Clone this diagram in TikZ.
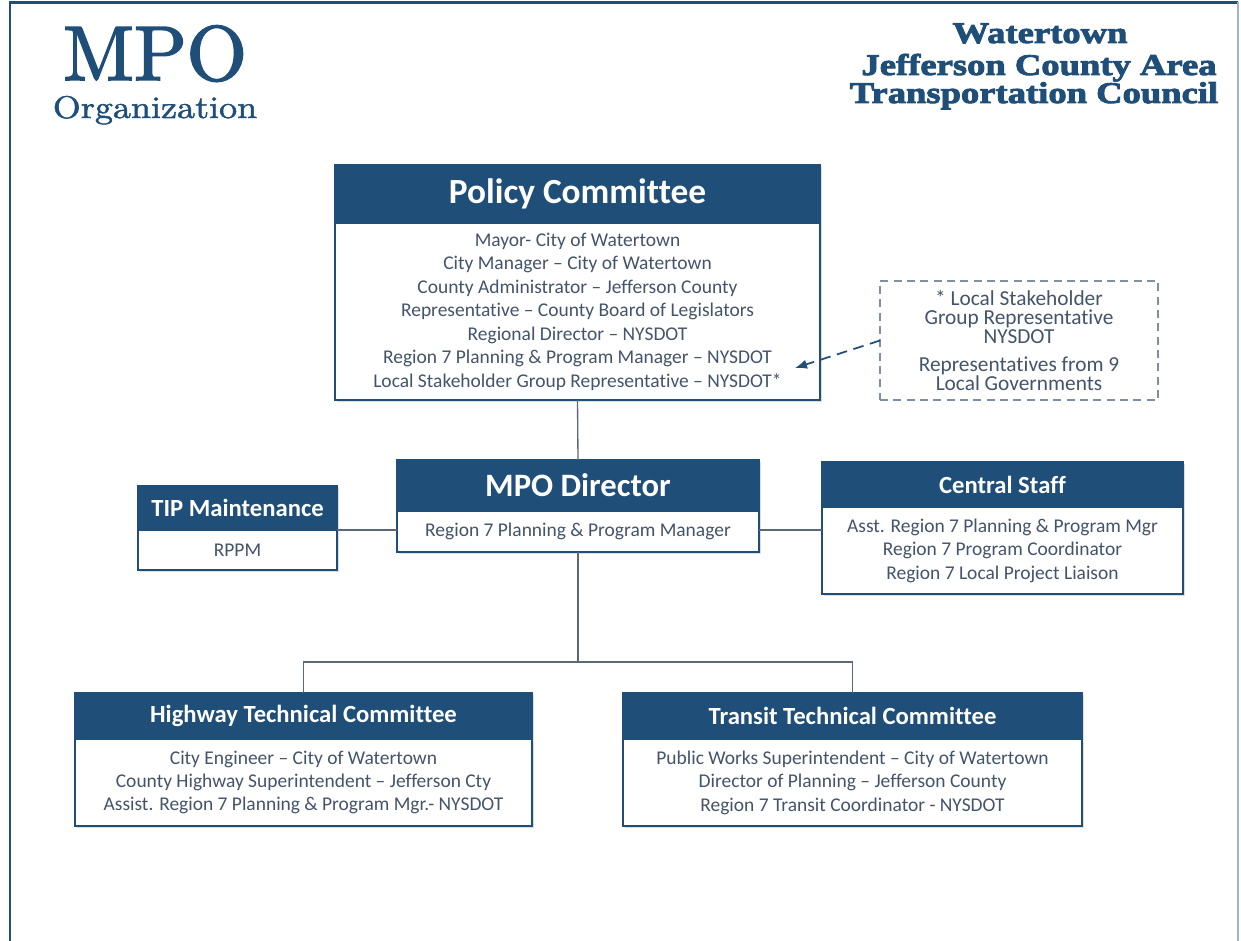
\documentclass[tikz,border=0pt]{standalone}
\usepackage{fontspec}
\setmainfont[Ligatures={TeX,NoCommon}]{Carlito}
\newfontfamily\didone[FakeBold=2.2]{lmroman10-regular.otf}
\newfontfamily\didonewide[FakeBold=1.6,FakeStretch=1.15]{lmroman10-regular.otf}
\newfontfamily\fatface[FakeBold=3,FakeStretch=1.22]{Liberation Serif Bold}
\usetikzlibrary{shadows,arrows.meta}

\definecolor{navy}{HTML}{1F4E79}
\definecolor{bodytext}{HTML}{44546A}
\definecolor{linkgray}{HTML}{5A6878}
\definecolor{notegray}{HTML}{7F8FA9}
\definecolor{framelight}{HTML}{9DB3C8}

\tikzset{
  pxbox/.style 2 args={minimum width=#1*0.75pt, minimum height=#2*0.75pt,
    inner sep=0pt, outer sep=0pt},
  boxshadow/.style={drop shadow={shadow xshift=1.5pt, shadow yshift=-1.5pt,
    opacity=0.22, fill=black!60}},
  hdr/.style={draw=navy, fill=navy, text=white, line width=1.1pt,
    font=\bfseries, boxshadow},
  bigfont/.style={font=\fontsize{26.5}{30}\selectfont\bfseries},
  midfont/.style={font=\fontsize{24.5}{28}\selectfont\bfseries},
  smallhdr/.style={font=\fontsize{18.5}{22}\selectfont\bfseries},
  bodybox/.style={draw=navy, fill=white, text=bodytext, line width=1.1pt,
    align=center, font=\fontsize{14.6}{17.6}\selectfont, boxshadow},
  notebox/.style={draw=notegray, dashed, dash pattern=on 6pt off 4pt,
    line width=0.9pt, text=bodytext, align=center,
    font=\fontsize{16}{14.6}\selectfont},
  link/.style={draw=linkgray, line width=1pt},
  pointer/.style={draw=navy, line width=1.3pt, dash pattern=on 8pt off 5pt,
    -{Latex[length=9pt,width=7pt]}},
  titletext/.style={text=navy, anchor=base, inner sep=0pt},
}

\begin{document}
\begin{tikzpicture}[x=0.75pt,y=-0.75pt]
  \useasboundingbox (0,0) rectangle (1241,941);
  \fill[white] (0,0) rectangle (1241,941);

  % page frame
  \draw[navy, line width=2.2pt] (10,941) -- (10,2.5) -- (1238,2.5);
  \draw[framelight, line width=1pt] (1238,2.5) -- (1238,941);

  % titles
  \node[titletext, font=\didone\fontsize{58}{58}\selectfont]
    (mpoTitle) at (155,80) {MPO};
  \node[titletext, font=\didonewide\fontsize{23.5}{23.5}\selectfont]
    (orgTitle) at (155,118) {Organization};
  \node[titletext, font=\fatface\fontsize{22.5}{22.5}\selectfont]
    (wtA) at (1040,43) {Watertown};
  \node[titletext, font=\fatface\fontsize{22.5}{22.5}\selectfont]
    (wtB) at (1039,75) {Jefferson County Area};
  \node[titletext, font=\fatface\fontsize{22.5}{22.5}\selectfont]
    (wtC) at (1034,103) {Transportation Council};

  % Policy Committee
  \node[hdr, bigfont, pxbox={485}{58}] (pcH) at (577.5,194) {Policy Committee};
  \node[bodybox, pxbox={485}{177}] (pcB) at (577.5,311.5) {%
    Mayor- City of Watertown\\
    City Manager -- City of Watertown\\
    County Administrator -- Jefferson County\\
    Representative -- County Board of Legislators\\
    Regional Director -- NYSDOT\\
    Region 7 Planning \& Program Manager -- NYSDOT\\
    Local Stakeholder Group Representative -- NYSDOT*};

  % note on the local stakeholder seat
  \node[notebox, pxbox={278}{119}] (note) at (1019,340.5) {%
    * Local Stakeholder\\
    Group Representative\\
    NYSDOT\\[6pt]
    Representatives from 9\\
    Local Governments};

  % MPO Director
  \node[hdr, midfont, pxbox={362}{51}] (mpoH) at (578,485.5) {MPO Director};
  \node[bodybox, pxbox={362}{41}] (mpoB) at (578,531.5)
    {Region 7 Planning \& Program Manager};

  % TIP Maintenance
  \node[hdr, smallhdr, pxbox={199}{44}] (tipH) at (237.5,508) {TIP Maintenance};
  \node[bodybox, pxbox={199}{40}] (tipB) at (237.5,550) {RPPM};

  % Central Staff
  \node[hdr, smallhdr, pxbox={361}{45}] (csH) at (1002.5,484.5) {Central Staff};
  \node[bodybox, pxbox={361}{87}] (csB) at (1002.5,550.5) {%
    Asst. Region 7 Planning \& Program Mgr\\
    Region 7 Program Coordinator\\
    Region 7 Local Project Liaison};

  % Highway Technical Committee
  \node[hdr, smallhdr, pxbox={457}{45}] (hwyH) at (303.5,715.5)
    {Highway Technical Committee};
  \node[bodybox, pxbox={457}{87}] (hwyB) at (303.5,782.5) {%
    City Engineer -- City of Watertown\\
    County Highway Superintendent -- Jefferson Cty\\
    Assist. Region 7 Planning \& Program Mgr.- NYSDOT};

  % Transit Technical Committee
  \node[hdr, smallhdr, pxbox={459}{45}] (trnH) at (852.5,715.5)
    {Transit Technical Committee};
  \node[bodybox, pxbox={459}{87}] (trnB) at (852.5,782.5) {%
    Public Works Superintendent -- City of Watertown\\
    Director of Planning -- Jefferson County\\
    Region 7 Transit Coordinator - NYSDOT};

  % connectors
  \coordinate (bus) at (578,662);
  \coordinate (noteTip) at (795,368);
  \draw[link] (pcB.south) -- (mpoH.north);
  \draw[link] (tipH.south east) -- (tipH.south east -| mpoB.west);
  \draw[link] (mpoB.east |- tipH.south east) -- (csB.west |- tipH.south east);
  \draw[link] (mpoB.south) -- (bus);
  \draw[link] (bus) -| (hwyH.north);
  \draw[link] (bus) -| (trnH.north);
  \draw[pointer] (note.west) -- (noteTip);
\end{tikzpicture}
\end{document}
